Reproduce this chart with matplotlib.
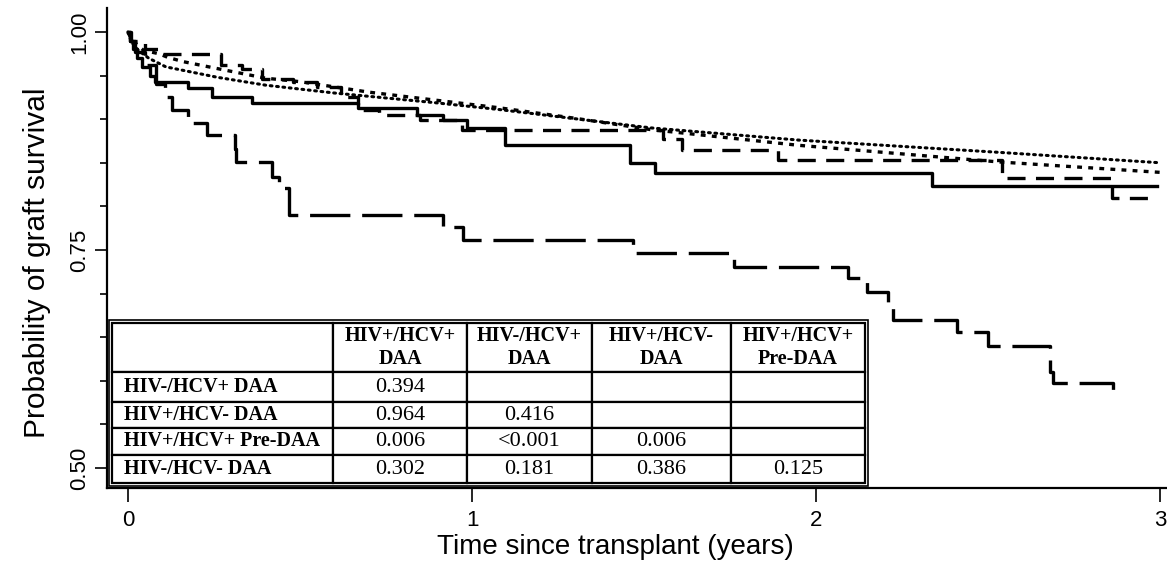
import matplotlib
matplotlib.use('Agg')
import matplotlib.pyplot as plt
from matplotlib.patches import Rectangle
from matplotlib.ticker import MultipleLocator


# Settings

output = 'out.png'
plt.rcParams['font.family'] = ['Liberation Sans', 'DejaVu Sans']
plt.rcParams['lines.scale_dashes'] = False


# Data: Kaplan-Meier curves (years, graft survival)

solid_t = [0, 0.006, 0.015, 0.026, 0.04, 0.064, 0.078, 0.174, 0.244, 0.36,
           0.669, 0.84, 0.916, 0.985, 1.096, 1.459, 1.532, 2.337, 2.99]
solid_s = [1.0, 0.99, 0.98, 0.97, 0.96, 0.95, 0.943, 0.936, 0.925, 0.919,
           0.913, 0.905, 0.899, 0.89, 0.87, 0.85, 0.838, 0.823, 0.823]

predaa_t = [0, 0.005, 0.02, 0.05, 0.08, 0.108, 0.128, 0.175, 0.23, 0.31,
            0.315, 0.42, 0.44, 0.468, 0.916, 0.974, 1.468, 1.76, 2.093,
            2.148, 2.21, 2.225, 2.41, 2.50, 2.68, 2.69, 2.862, 2.865]
predaa_s = [1.0, 0.99, 0.977, 0.962, 0.94, 0.925, 0.911, 0.896, 0.882, 0.866,
            0.851, 0.834, 0.821, 0.790, 0.776, 0.761, 0.747, 0.731, 0.718,
            0.702, 0.686, 0.670, 0.656, 0.640, 0.610, 0.597, 0.580, 0.580]

dash_t = [0, 0.01, 0.05, 0.10, 0.27, 0.33, 0.39, 0.48, 0.55, 0.62, 0.67,
          0.73, 0.85, 0.97, 1.555, 1.61, 1.89, 2.54, 2.86, 2.99]
dash_s = [1.0, 0.99, 0.981, 0.975, 0.962, 0.958, 0.946, 0.943, 0.937, 0.925,
          0.911, 0.905, 0.899, 0.888, 0.877, 0.865, 0.853, 0.832, 0.81, 0.81]

short_t = [0, 0.01, 0.045, 0.09, 0.115, 0.16, 0.26, 0.40, 0.50, 0.60, 0.70,
           0.89, 1.08, 1.3, 1.52, 1.95, 2.53, 3.0]
short_s = [1.0, 0.991, 0.979, 0.975, 0.971, 0.966, 0.958, 0.947, 0.943, 0.937,
           0.931, 0.922, 0.913, 0.901, 0.888, 0.870, 0.851, 0.839]

dot_t = [0, 0.01, 0.03, 0.06, 0.11, 0.26, 0.40, 0.60, 0.89, 1.08, 1.52,
         1.95, 2.53, 3.0]
dot_s = [1.0, 0.9885, 0.979, 0.970, 0.960, 0.948, 0.939, 0.930, 0.919, 0.911,
         0.890, 0.876, 0.862, 0.850]

# p-value table
col_labels = ['', 'HIV+/HCV+\nDAA', 'HIV-/HCV+\nDAA', 'HIV+/HCV-\nDAA', 'HIV+/HCV+\nPre-DAA']
row_labels = ['HIV-/HCV+ DAA', 'HIV+/HCV- DAA', 'HIV+/HCV+ Pre-DAA', 'HIV-/HCV- DAA']
p_values = [['0.394', '', '', ''],
            ['0.964', '0.416', '', ''],
            ['0.006', '<0.001', '0.006', ''],
            ['0.302', '0.181', '0.386', '0.125']]


# Code

fig = plt.figure(figsize=(11.67, 5.64), dpi=100)
ax = fig.add_axes([107 / 1167, 76 / 564, 1060 / 1167, 480 / 564])

ax.plot(dot_t, dot_s, color='black', lw=2.2, dashes=(1.3, 3.3), dash_capstyle='round')
ax.plot(short_t, short_s, color='black', lw=2.4, dashes=(3.5, 4.5))
ax.plot(dash_t, dash_s, color='black', lw=2.4, dashes=(13, 7.5), drawstyle='steps-post')
ax.plot(predaa_t, predaa_s, color='black', lw=2.4, dashes=(29, 8.5), drawstyle='steps-post')
ax.plot(solid_t, solid_s, color='black', lw=2.4, drawstyle='steps-post')

ax.set_xlim(-0.061, 3.020)
ax.set_ylim(0.477, 1.0275)

for side in ['top', 'right']:
    ax.spines[side].set_visible(False)
for side in ['left', 'bottom']:
    ax.spines[side].set_linewidth(1.6)

ax.set_xticks([0, 1, 2, 3])
ax.set_yticks([0.50, 0.75, 1.00])
ax.set_yticklabels(['0.50', '0.75', '1.00'], rotation=90, va='center')
ax.yaxis.set_minor_locator(MultipleLocator(0.05))
ax.tick_params(axis='x', length=10, width=1.2, pad=6, labelsize=16)
ax.tick_params(axis='y', which='major', length=9, width=1.2, pad=3, labelsize=16)
ax.tick_params(axis='y', which='minor', length=5, width=1.2)

ax.set_xlabel('Time since transplant (years)', fontsize=20, va='center')
ax.xaxis.set_label_coords(0.480, -0.123)
ax.set_ylabel('Probability of graft survival', fontsize=21.5, va='center')
ax.yaxis.set_label_coords(-0.066, 0.47)

# table of pairwise p-values
cell_text = [col_labels] + [[r] + v for r, v in zip(row_labels, p_values)]
row_h = [49, 30, 26, 27, 28]
col_w = [221, 134, 125, 139, 134]
x0, y0, w, h = 5 / 1060, 5 / 480, 753 / 1060, 160 / 480
tab = ax.table(cellText=cell_text, cellLoc='center', bbox=[x0, y0, w, h], zorder=5)
tab.auto_set_font_size(False)
for (r, c), cell in tab.get_celld().items():
    cell.set_height(row_h[r])
    cell.set_width(col_w[c])
    cell.set_linewidth(1.6)
    cell.set_edgecolor('black')
    cell.set_facecolor('white')
    txt = cell.get_text()
    txt.set_fontfamily('Liberation Serif')
    txt.set_fontsize(14.5)
    txt.set_linespacing(1.2)
    if r == 0 or c == 0:
        txt.set_fontweight('bold')
    else:
        txt.set_fontsize(16)
    if c == 0:
        txt.set_horizontalalignment('left')
        cell.PAD = 0.055

dx, dy = 3 / 1060, 3 / 480
ax.add_patch(Rectangle((x0 - dx, y0 - dy), w + 2 * dx, h + 2 * dy, transform=ax.transAxes,
                       fill=False, lw=1.2, edgecolor='black', zorder=6))

fig.savefig(output, dpi=100)
